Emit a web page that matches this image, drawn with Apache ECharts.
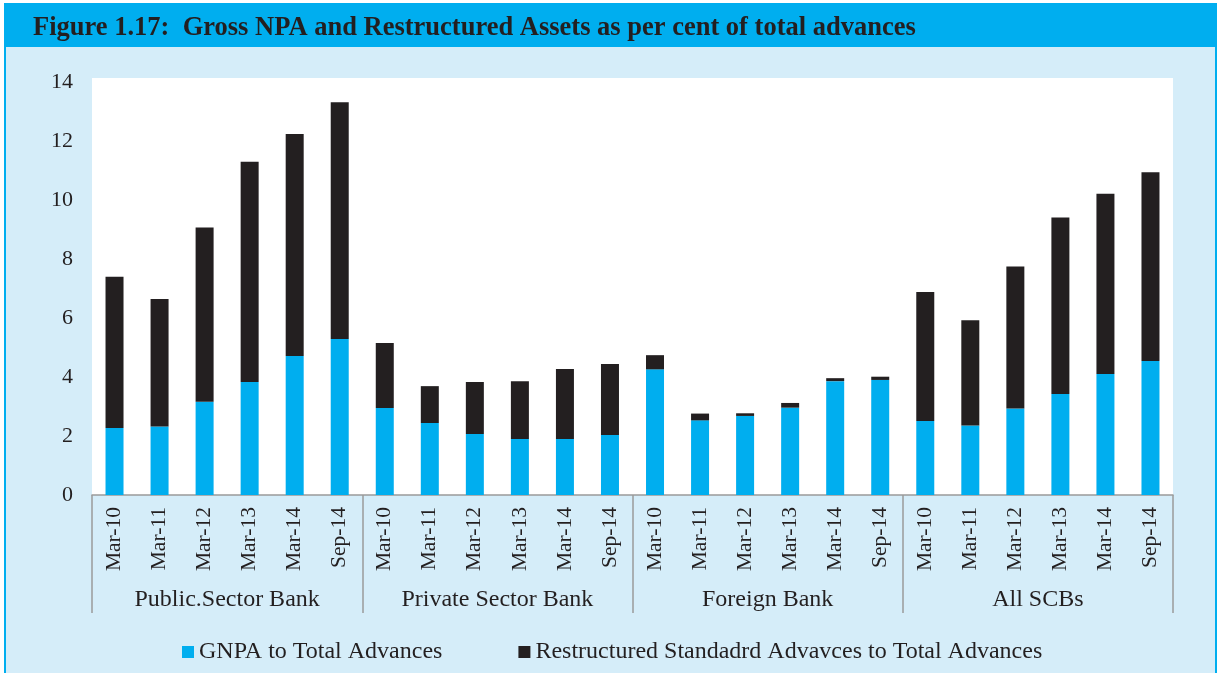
<!DOCTYPE html>
<html>
<head>
<meta charset="utf-8">
<title>Figure 1.17</title>
<script src="https://cdn.jsdelivr.net/npm/echarts@6/dist/echarts.min.js"></script>
<style>
    html, body { margin: 0; padding: 0; background: #ffffff; }
    #chart { width: 1218px; height: 673px; }
</style>
</head>
<body>
<div id="chart"></div>
<script>
// 分组与期次
var groups = ['Public.Sector Bank', 'Private Sector Bank', 'Foreign Bank', 'All SCBs'];
var periods = ['Mar-10', 'Mar-11', 'Mar-12', 'Mar-13', 'Mar-14', 'Sep-14'];

// GNPA 占总贷款比例（%）
var gnpa = [
    2.27, 2.32, 3.16, 3.83, 4.71, 5.29,
    2.95, 2.44, 2.07, 1.90, 1.90, 2.03,
    4.26, 2.53, 2.68, 2.96, 3.86, 3.90,
    2.51, 2.36, 2.93, 3.42, 4.10, 4.54
];

// 重组标准资产占总贷款比例（%）
var restructured = [
    5.13, 4.32, 5.91, 7.47, 7.53, 8.02,
    2.20, 1.25, 1.76, 1.96, 2.37, 2.41,
    0.48, 0.23, 0.09, 0.16, 0.10, 0.11,
    4.37, 3.56, 4.82, 5.99, 6.11, 6.40
];

var seriesNames = ['GNPA to Total Advances', 'Restructured Standadrd Advavces to Total Advances'];
var yTicks = { min: 0, max: 14, interval: 2 };

var categories = [];
for (var g = 0; g < groups.length; g++) {
    for (var p = 0; p < periods.length; p++) {
        categories.push(periods[p]);
    }
}

var textColor = '#231f20';
var serif = 'Liberation Serif, Times New Roman, serif';

var option = {
    backgroundColor: '#ffffff',
    animation: false,
    title: {
        text: 'Figure 1.17:  Gross NPA and Restructured Assets as per cent of total advances',
        left: 28,
        top: 10,
        textStyle: {
            fontFamily: serif,
            fontWeight: 'bold',
            fontSize: 26.5,
            color: textColor
        }
    },
    graphic: [
        {
            type: 'rect',
            z: -10,
            silent: true,
            shape: { x: 5, y: 4, width: 1211, height: 680 },
            style: { fill: '#d5edf9', stroke: '#00aeef', lineWidth: 2 }
        },
        {
            type: 'rect',
            z: -9,
            silent: true,
            shape: { x: 4, y: 4, width: 1213, height: 43 },
            style: { fill: '#00aeef' }
        },
        {
            type: 'rect',
            z: -8,
            silent: true,
            shape: { x: 92, y: 78, width: 1081, height: 417 },
            style: { fill: '#ffffff' }
        }
    ],
    legend: {
        left: 177,
        top: 635,
        itemWidth: 12,
        itemHeight: 12,
        itemGap: 76,
        icon: 'rect',
        textStyle: {
            fontFamily: serif,
            fontSize: 24,
            color: textColor
        },
        data: seriesNames
    },
    grid: {
        left: 92,
        right: 45,
        top: 82,
        bottom: 178
    },
    xAxis: [
        {
            type: 'category',
            data: categories,
            axisLine: { lineStyle: { color: '#9a9a9a', width: 1.5 } },
            axisTick: { show: false },
            axisLabel: {
                interval: 0,
                rotate: 90,
                margin: 12,
                fontFamily: serif,
                fontSize: 21.5,
                color: textColor
            }
        },
        {
            type: 'category',
            position: 'bottom',
            data: groups,
            axisLine: { show: false },
            axisTick: {
                show: true,
                length: 118,
                interval: 0,
                lineStyle: { color: '#9a9a9a', width: 1.5 }
            },
            axisLabel: {
                interval: 0,
                margin: 93,
                fontFamily: serif,
                fontSize: 24,
                color: textColor
            }
        }
    ],
    yAxis: {
        type: 'value',
        min: yTicks.min,
        max: yTicks.max,
        interval: yTicks.interval,
        axisLine: { show: false },
        axisTick: { show: false },
        splitLine: { show: false },
        axisLabel: {
            margin: 19,
            fontFamily: serif,
            fontSize: 22,
            color: textColor
        }
    },
    series: [
        {
            name: seriesNames[0],
            type: 'bar',
            stack: 'total',
            barWidth: 18,
            data: gnpa,
            itemStyle: { color: '#00aeef' }
        },
        {
            name: seriesNames[1],
            type: 'bar',
            stack: 'total',
            barWidth: 18,
            data: restructured,
            itemStyle: { color: '#231f20' }
        }
    ]
};

var chart = echarts.init(document.getElementById('chart'));
chart.setOption(option);
</script>
</body>
</html>
